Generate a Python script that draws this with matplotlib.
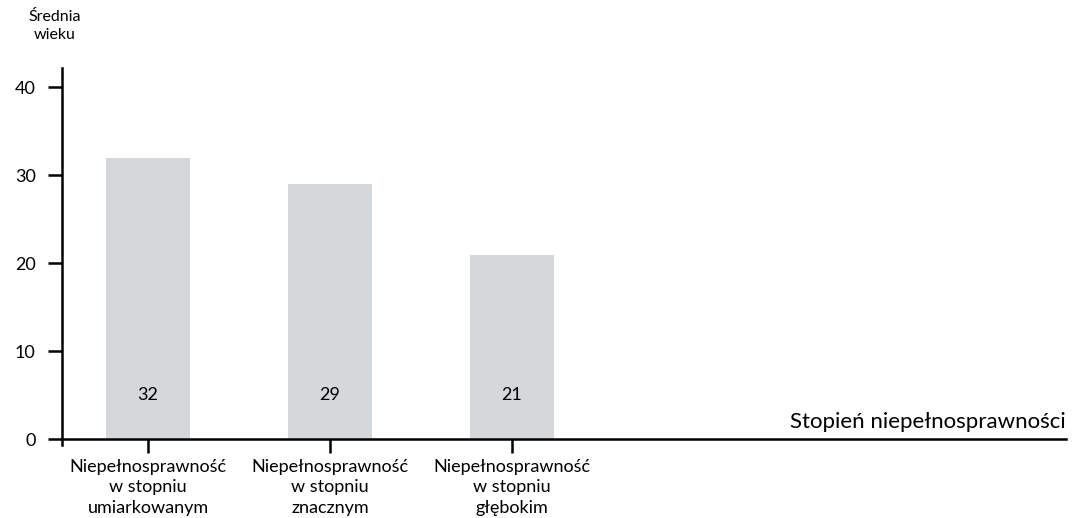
import matplotlib
matplotlib.use("Agg")
import matplotlib.pyplot as plt

# Average age by degree of disability
categories = [
    "Niepełnosprawność\nw stopniu\numiarkowanym",
    "Niepełnosprawność\nw stopniu\nznacznym",
    "Niepełnosprawność\nw stopniu\ngłębokim",
]
mean_age = [32, 29, 21]
y_ticks = [0, 10, 20, 30, 40]

plt.rcParams["font.family"] = ["Lato", "DejaVu Sans"]
plt.rcParams["text.color"] = "black"

fig = plt.figure(figsize=(10.73, 5.18), dpi=100)
ax = fig.add_axes([62 / 1073, (518 - 445) / 518, (1066 - 62) / 1073, (445 - 68) / 518])

x = list(range(len(categories)))
ax.bar(x, mean_age, width=0.46, color="#d5d8db", zorder=1)

for xi, v in zip(x, mean_age):
    ax.text(xi, 5, f"{v:d}", ha="center", va="center", fontsize=13, color="black")

ax.set_xlim(-0.4725, 5.044)
ax.set_ylim(-0.65, 42.2)

for side in ("top", "right"):
    ax.spines[side].set_visible(False)
ax.spines["bottom"].set_position(("data", 0))
ax.spines["left"].set_linewidth(1.8)
ax.spines["bottom"].set_linewidth(1.8)

ax.set_yticks(y_ticks)
ax.set_yticklabels([str(t) for t in y_ticks], fontsize=13)
ax.set_xticks(x)
ax.set_xticklabels(categories, fontsize=13, linespacing=1.35)
ax.tick_params(axis="y", length=10, width=1.8, pad=9, labelcolor="black")
ax.tick_params(axis="x", length=10, width=1.8, pad=4, labelcolor="black")

ax.text(1.0, 0.035, "Stopień niepełnosprawności", transform=ax.transAxes,
        ha="right", va="bottom", fontsize=16)
fig.text(55 / 1073, 1 - 10 / 518, "Średnia\nwieku", ha="center", va="top",
         fontsize=11.5, linespacing=1.35)

fig.savefig("out.png", dpi=100)
